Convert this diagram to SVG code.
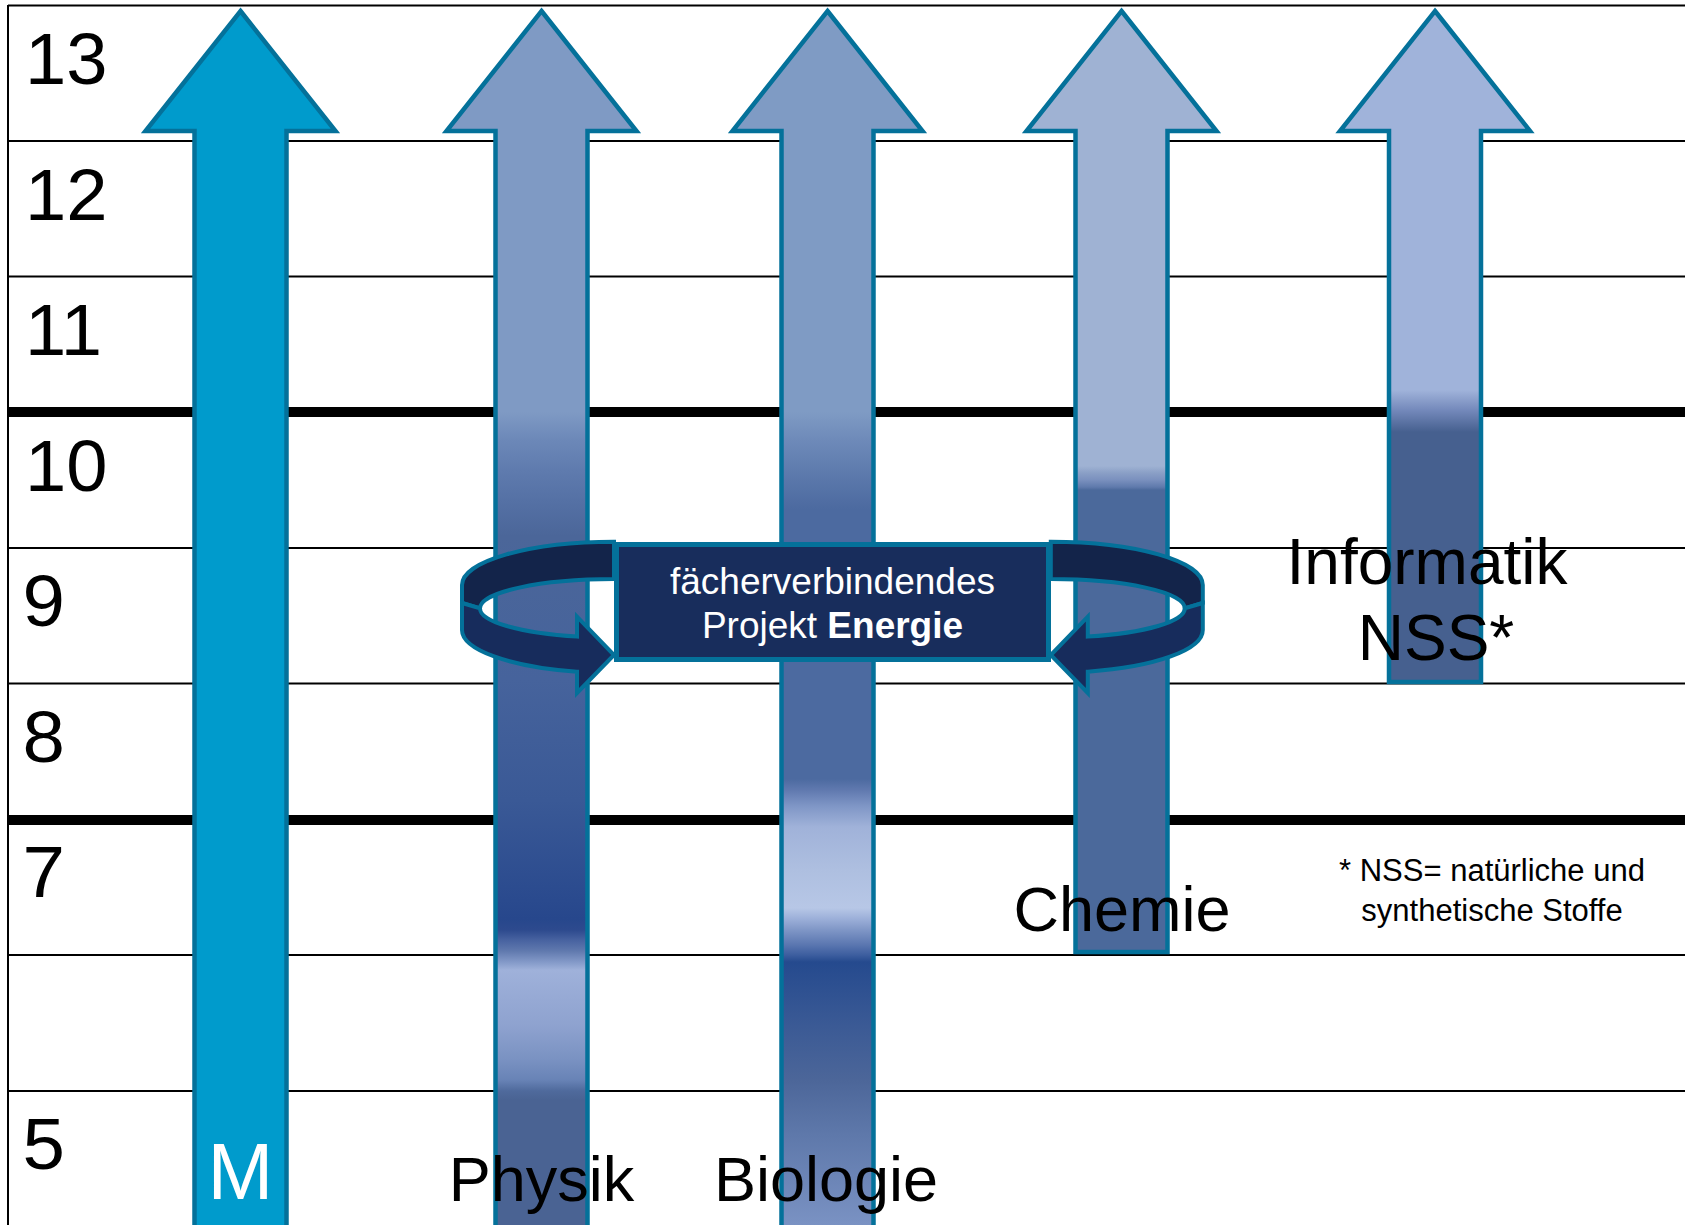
<svg xmlns="http://www.w3.org/2000/svg" width="1685" height="1225" viewBox="0 0 1685 1225">
<defs>
<style>
.grid{stroke:#000;stroke-width:2;fill:none}
.thick{stroke:#000;stroke-width:10;fill:none}
.arrow{stroke:#04719A;stroke-width:4.5;stroke-linejoin:miter}
.yr{font-family:"Liberation Sans",Arial,sans-serif;font-size:72px;fill:#000}
.lbl{font-family:"Liberation Sans",Arial,sans-serif;font-size:63px;fill:#000;text-anchor:middle}
.curl{stroke:#04719A;stroke-width:4;stroke-linejoin:miter}
.box{fill:#182D5C;stroke:#04719A;stroke-width:5}
.boxt{font-family:"Liberation Sans",Arial,sans-serif;font-size:37px;fill:#fff;text-anchor:middle}
.note{font-family:"Liberation Sans",Arial,sans-serif;font-size:31px;fill:#000;text-anchor:middle}
</style>
<linearGradient id="gPhys" gradientUnits="userSpaceOnUse" x1="0" y1="0" x2="0" y2="1225">
<stop offset="0" stop-color="#7F9AC4"/>
<stop offset="0.3363" stop-color="#7F9AC4"/>
<stop offset="0.3592" stop-color="#6C88B8"/>
<stop offset="0.3837" stop-color="#5F7BAE"/>
<stop offset="0.4082" stop-color="#5571A5"/>
<stop offset="0.4376" stop-color="#4B6699"/>
<stop offset="0.5551" stop-color="#46639C"/>
<stop offset="0.6531" stop-color="#3A5996"/>
<stop offset="0.7347" stop-color="#2A4A8E"/>
<stop offset="0.7502" stop-color="#27478C"/>
<stop offset="0.7592" stop-color="#2D4A8E"/>
<stop offset="0.7673" stop-color="#4762A0"/>
<stop offset="0.7763" stop-color="#6079AE"/>
<stop offset="0.7853" stop-color="#8399C8"/>
<stop offset="0.7918" stop-color="#9FB1DA"/>
<stop offset="0.8376" stop-color="#8EA2CF"/>
<stop offset="0.8645" stop-color="#7A92C2"/>
<stop offset="0.8816" stop-color="#6883B6"/>
<stop offset="0.8906" stop-color="#4F6A9C"/>
<stop offset="0.8980" stop-color="#4A6393"/>
<stop offset="1" stop-color="#4A6393"/>
</linearGradient>
<linearGradient id="gBio" gradientUnits="userSpaceOnUse" x1="0" y1="0" x2="0" y2="1225">
<stop offset="0" stop-color="#7F9BC4"/>
<stop offset="0.3363" stop-color="#7F9BC4"/>
<stop offset="0.3592" stop-color="#6E8AB9"/>
<stop offset="0.3918" stop-color="#5A77AA"/>
<stop offset="0.4155" stop-color="#4C6AA0"/>
<stop offset="0.6359" stop-color="#4C6AA0"/>
<stop offset="0.6449" stop-color="#6079AF"/>
<stop offset="0.6580" stop-color="#7F96C6"/>
<stop offset="0.6751" stop-color="#A0B2D9"/>
<stop offset="0.7102" stop-color="#AEBFE0"/>
<stop offset="0.7412" stop-color="#B7C7E6"/>
<stop offset="0.7494" stop-color="#9EB1DA"/>
<stop offset="0.7592" stop-color="#7F96C6"/>
<stop offset="0.7714" stop-color="#5A76B0"/>
<stop offset="0.7796" stop-color="#3D5E9F"/>
<stop offset="0.7853" stop-color="#254A8E"/>
<stop offset="0.8376" stop-color="#3B5A95"/>
<stop offset="0.8816" stop-color="#4C6699"/>
<stop offset="0.9257" stop-color="#5E78AA"/>
<stop offset="1" stop-color="#7A92C3"/>
</linearGradient>
<linearGradient id="gChem" gradientUnits="userSpaceOnUse" x1="0" y1="0" x2="0" y2="1225">
<stop offset="0" stop-color="#9FB2D3"/>
<stop offset="0.3804" stop-color="#9FB2D3"/>
<stop offset="0.3861" stop-color="#8A9FC6"/>
<stop offset="0.3918" stop-color="#7A90BE"/>
<stop offset="0.3976" stop-color="#5F7AAC"/>
<stop offset="0.4000" stop-color="#4B699B"/>
<stop offset="1" stop-color="#4B699B"/>
</linearGradient>
<linearGradient id="gInf" gradientUnits="userSpaceOnUse" x1="0" y1="0" x2="0" y2="1225">
<stop offset="0" stop-color="#A0B3DA"/>
<stop offset="0.3184" stop-color="#A0B3DA"/>
<stop offset="0.3347" stop-color="#7489BB"/>
<stop offset="0.3527" stop-color="#46608F"/>
<stop offset="1" stop-color="#46608F"/>
</linearGradient>
</defs>
<rect width="1685" height="1225" fill="#fff"/>
<g id="grid">
<line class="grid" x1="8" y1="5.5" x2="1685" y2="5.5" stroke="#333"/>
<line class="grid" x1="8" y1="5" x2="8" y2="1225" stroke="#333"/>
<line class="grid" x1="8" y1="141" x2="1685" y2="141"/>
<line class="grid" x1="8" y1="276.5" x2="1685" y2="276.5"/>
<line class="thick" x1="8" y1="412" x2="1685" y2="412"/>
<line class="grid" x1="8" y1="548" x2="1685" y2="548"/>
<line class="grid" x1="8" y1="683.5" x2="1685" y2="683.5"/>
<line class="thick" x1="8" y1="820" x2="1685" y2="820"/>
<line class="grid" x1="8" y1="955" x2="1685" y2="955"/>
<line class="grid" x1="8" y1="1091" x2="1685" y2="1091"/>
</g>
<g id="years">
<text class="yr" transform="translate(25,84) scale(1.03,1)">13</text>
<text class="yr" transform="translate(25,219.5) scale(1.03,1)">12</text>
<text class="yr" transform="translate(25,355) scale(1.03,1)">11</text>
<text class="yr" transform="translate(25,490.5) scale(1.03,1)">10</text>
<text class="yr" transform="translate(22.5,626) scale(1.06,1)">9</text>
<text class="yr" transform="translate(22.5,761.5) scale(1.06,1)">8</text>
<text class="yr" transform="translate(22.5,897) scale(1.06,1)">7</text>
<text class="yr" transform="translate(22.5,1169) scale(1.06,1)">5</text>
</g>
<g id="arrow-m">
<path class="arrow" fill="#009BCC" d="M240.5,11 L335.5,131 L286.5,131 L286.5,1240 L194.5,1240 L194.5,131 L145.5,131 Z"/>
<text class="lbl" x="240.5" y="1199" style="fill:#fff;font-size:79px">M</text>
</g>
<g id="arrow-physik">
<path class="arrow" fill="url(#gPhys)" d="M541.5,11 L636.5,131 L587.5,131 L587.5,1240 L495.5,1240 L495.5,131 L446.5,131 Z"/>
<text class="lbl" x="541.5" y="1201">Physik</text>
</g>
<g id="arrow-biologie">
<path class="arrow" fill="url(#gBio)" d="M827.5,11 L922.5,131 L873.5,131 L873.5,1240 L781.5,1240 L781.5,131 L732.5,131 Z"/>
<text class="lbl" x="826" y="1201">Biologie</text>
</g>
<g id="arrow-chemie">
<path class="arrow" fill="url(#gChem)" d="M1121.5,11 L1216.5,131 L1167.5,131 L1167.5,952 L1075.5,952 L1075.5,131 L1026.5,131 Z"/>
<text class="lbl" x="1122" y="931">Chemie</text>
</g>
<g id="arrow-informatik">
<path class="arrow" fill="url(#gInf)" d="M1435,11 L1530,131 L1481,131 L1481,682 L1389,682 L1389,131 L1340,131 Z"/>
<text class="lbl" x="1427" y="584" style="font-size:64px">Informatik</text>
<text class="lbl" x="1436" y="660" style="font-size:64px">NSS*</text>
</g>
<g id="connectors">
<g id="curl-left">
<path class="curl" fill="#13244A" d="M614,541.7 A152,43.3 0 0 0 462,585 L462,603 L480,608.3 A134,29.3 0 0 1 614,579 Z"/>
<path class="curl" fill="#172C5C" d="M462,603 L480,608.3 A134,29.3 0 0 0 577,636.6 L577,616.7 L614,655 L577,693 L577,671.7 A152,43 0 0 1 462,630 Z"/>
</g>
<g id="curl-right" transform="translate(1664.8,0) scale(-1,1)">
<path class="curl" fill="#13244A" d="M614,541.7 A152,43.3 0 0 0 462,585 L462,603 L480,608.3 A134,29.3 0 0 1 614,579 Z"/>
<path class="curl" fill="#172C5C" d="M462,603 L480,608.3 A134,29.3 0 0 0 577,636.6 L577,616.7 L614,655 L577,693 L577,671.7 A152,43 0 0 1 462,630 Z"/>
</g>
</g>
<g id="projekt-box">
<rect class="box" x="616.5" y="544.5" width="432" height="115"/>
<text class="boxt" x="832.5" y="594">fächerverbindendes</text>
<text class="boxt" x="832.5" y="638">Projekt <tspan font-weight="bold">Energie</tspan></text>
</g>
<g id="footnote">
<text class="note" x="1492" y="881">* NSS= natürliche und</text>
<text class="note" x="1492" y="921">synthetische Stoffe</text>
</g>
</svg>
